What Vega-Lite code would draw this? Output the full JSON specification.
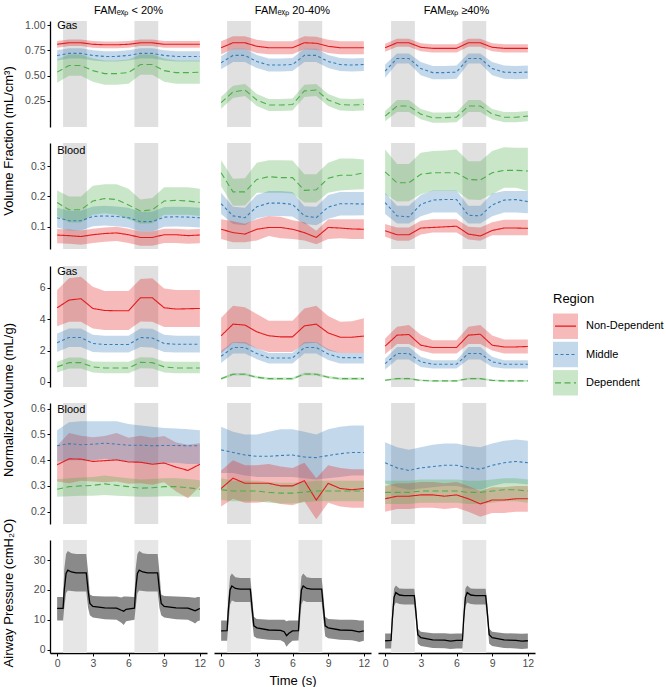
{
"$schema":"https://vega.github.io/schema/vega-lite/v6.json",
"padding":{"left":2,"top":5,"right":0,"bottom":0},
"config":{"font":"Liberation Sans","view":{"stroke":null},
"axis":{"domainColor":"black","domainWidth":1.3,"tickColor":"black","tickSize":3,"labelColor":"#4d4d4d","labelFontSize":10.5,"grid":false,"labelPadding":2,"labelOverlap":false,"labelSeparation":0},
"axisY":{"minExtent":31,"maxExtent":31},
"title":{"fontWeight":"normal","fontSize":13,"color":"black"}},
"datasets":{"d":[
{"v":"band","f":"a","s":0.5,"e":2.5},{"v":"band","f":"a","s":6.5,"e":8.5},
{"v":"band","f":"b","s":0.5,"e":2.5},{"v":"band","f":"b","s":6.5,"e":8.5},
{"v":"band","f":"c","s":0.5,"e":2.5},{"v":"band","f":"c","s":6.5,"e":8.5},
{"v":"gf","f":"a","lab":"Gas"},{"v":"bf","f":"a","lab":"Blood"},{"v":"gn","f":"a","lab":"Gas"},{"v":"bn","f":"a","lab":"Blood"},
{"v":"gf","f":"a","r":"N","t":0,"m":0.81,"l":0.777,"h":0.843},
{"v":"gf","f":"a","r":"N","t":1,"m":0.825,"l":0.792,"h":0.858},
{"v":"gf","f":"a","r":"N","t":2,"m":0.825,"l":0.792,"h":0.858},
{"v":"gf","f":"a","r":"N","t":3,"m":0.81,"l":0.777,"h":0.843},
{"v":"gf","f":"a","r":"N","t":4,"m":0.805,"l":0.772,"h":0.838},
{"v":"gf","f":"a","r":"N","t":5,"m":0.805,"l":0.772,"h":0.838},
{"v":"gf","f":"a","r":"N","t":6,"m":0.81,"l":0.777,"h":0.843},
{"v":"gf","f":"a","r":"N","t":7,"m":0.825,"l":0.792,"h":0.858},
{"v":"gf","f":"a","r":"N","t":8,"m":0.825,"l":0.792,"h":0.858},
{"v":"gf","f":"a","r":"N","t":9,"m":0.81,"l":0.777,"h":0.843},
{"v":"gf","f":"a","r":"N","t":10,"m":0.81,"l":0.777,"h":0.843},
{"v":"gf","f":"a","r":"N","t":11,"m":0.81,"l":0.777,"h":0.843},
{"v":"gf","f":"a","r":"N","t":12,"m":0.81,"l":0.777,"h":0.843},
{"v":"gf","f":"a","r":"M","t":0,"m":0.70,"l":0.65,"h":0.75},
{"v":"gf","f":"a","r":"M","t":1,"m":0.72,"l":0.67,"h":0.77},
{"v":"gf","f":"a","r":"M","t":2,"m":0.72,"l":0.67,"h":0.77},
{"v":"gf","f":"a","r":"M","t":3,"m":0.70,"l":0.65,"h":0.75},
{"v":"gf","f":"a","r":"M","t":4,"m":0.69,"l":0.64,"h":0.74},
{"v":"gf","f":"a","r":"M","t":5,"m":0.69,"l":0.64,"h":0.74},
{"v":"gf","f":"a","r":"M","t":6,"m":0.70,"l":0.65,"h":0.75},
{"v":"gf","f":"a","r":"M","t":7,"m":0.72,"l":0.67,"h":0.77},
{"v":"gf","f":"a","r":"M","t":8,"m":0.72,"l":0.67,"h":0.77},
{"v":"gf","f":"a","r":"M","t":9,"m":0.70,"l":0.65,"h":0.75},
{"v":"gf","f":"a","r":"M","t":10,"m":0.69,"l":0.64,"h":0.74},
{"v":"gf","f":"a","r":"M","t":11,"m":0.69,"l":0.64,"h":0.74},
{"v":"gf","f":"a","r":"M","t":12,"m":0.69,"l":0.64,"h":0.74},
{"v":"gf","f":"a","r":"D","t":0,"m":0.535,"l":0.43,"h":0.66},
{"v":"gf","f":"a","r":"D","t":1,"m":0.60,"l":0.50,"h":0.71},
{"v":"gf","f":"a","r":"D","t":2,"m":0.60,"l":0.50,"h":0.71},
{"v":"gf","f":"a","r":"D","t":3,"m":0.55,"l":0.44,"h":0.67},
{"v":"gf","f":"a","r":"D","t":4,"m":0.52,"l":0.41,"h":0.65},
{"v":"gf","f":"a","r":"D","t":5,"m":0.52,"l":0.41,"h":0.65},
{"v":"gf","f":"a","r":"D","t":6,"m":0.53,"l":0.42,"h":0.66},
{"v":"gf","f":"a","r":"D","t":7,"m":0.61,"l":0.51,"h":0.71},
{"v":"gf","f":"a","r":"D","t":8,"m":0.61,"l":0.51,"h":0.71},
{"v":"gf","f":"a","r":"D","t":9,"m":0.55,"l":0.44,"h":0.67},
{"v":"gf","f":"a","r":"D","t":10,"m":0.53,"l":0.42,"h":0.65},
{"v":"gf","f":"a","r":"D","t":11,"m":0.53,"l":0.42,"h":0.65},
{"v":"gf","f":"a","r":"D","t":12,"m":0.535,"l":0.42,"h":0.65},
{"v":"gf","f":"b","r":"N","t":0,"m":0.776,"l":0.711,"h":0.841},
{"v":"gf","f":"b","r":"N","t":1,"m":0.825,"l":0.76,"h":0.89},
{"v":"gf","f":"b","r":"N","t":2,"m":0.825,"l":0.76,"h":0.89},
{"v":"gf","f":"b","r":"N","t":3,"m":0.79,"l":0.725,"h":0.855},
{"v":"gf","f":"b","r":"N","t":4,"m":0.776,"l":0.711,"h":0.841},
{"v":"gf","f":"b","r":"N","t":5,"m":0.776,"l":0.711,"h":0.841},
{"v":"gf","f":"b","r":"N","t":6,"m":0.776,"l":0.711,"h":0.841},
{"v":"gf","f":"b","r":"N","t":7,"m":0.825,"l":0.76,"h":0.89},
{"v":"gf","f":"b","r":"N","t":8,"m":0.82,"l":0.755,"h":0.885},
{"v":"gf","f":"b","r":"N","t":9,"m":0.79,"l":0.725,"h":0.855},
{"v":"gf","f":"b","r":"N","t":10,"m":0.776,"l":0.711,"h":0.841},
{"v":"gf","f":"b","r":"N","t":11,"m":0.776,"l":0.711,"h":0.841},
{"v":"gf","f":"b","r":"N","t":12,"m":0.776,"l":0.711,"h":0.841},
{"v":"gf","f":"b","r":"M","t":0,"m":0.628,"l":0.563,"h":0.693},
{"v":"gf","f":"b","r":"M","t":1,"m":0.70,"l":0.635,"h":0.765},
{"v":"gf","f":"b","r":"M","t":2,"m":0.70,"l":0.635,"h":0.765},
{"v":"gf","f":"b","r":"M","t":3,"m":0.64,"l":0.575,"h":0.705},
{"v":"gf","f":"b","r":"M","t":4,"m":0.605,"l":0.54,"h":0.67},
{"v":"gf","f":"b","r":"M","t":5,"m":0.605,"l":0.54,"h":0.67},
{"v":"gf","f":"b","r":"M","t":6,"m":0.61,"l":0.545,"h":0.675},
{"v":"gf","f":"b","r":"M","t":7,"m":0.70,"l":0.635,"h":0.765},
{"v":"gf","f":"b","r":"M","t":8,"m":0.70,"l":0.635,"h":0.765},
{"v":"gf","f":"b","r":"M","t":9,"m":0.64,"l":0.575,"h":0.705},
{"v":"gf","f":"b","r":"M","t":10,"m":0.61,"l":0.545,"h":0.675},
{"v":"gf","f":"b","r":"M","t":11,"m":0.605,"l":0.54,"h":0.67},
{"v":"gf","f":"b","r":"M","t":12,"m":0.61,"l":0.545,"h":0.675},
{"v":"gf","f":"b","r":"D","t":0,"m":0.233,"l":0.173,"h":0.293},
{"v":"gf","f":"b","r":"D","t":1,"m":0.34,"l":0.28,"h":0.40},
{"v":"gf","f":"b","r":"D","t":2,"m":0.358,"l":0.298,"h":0.418},
{"v":"gf","f":"b","r":"D","t":3,"m":0.26,"l":0.20,"h":0.32},
{"v":"gf","f":"b","r":"D","t":4,"m":0.21,"l":0.15,"h":0.27},
{"v":"gf","f":"b","r":"D","t":5,"m":0.21,"l":0.15,"h":0.27},
{"v":"gf","f":"b","r":"D","t":6,"m":0.215,"l":0.155,"h":0.275},
{"v":"gf","f":"b","r":"D","t":7,"m":0.35,"l":0.29,"h":0.41},
{"v":"gf","f":"b","r":"D","t":8,"m":0.358,"l":0.298,"h":0.418},
{"v":"gf","f":"b","r":"D","t":9,"m":0.26,"l":0.20,"h":0.32},
{"v":"gf","f":"b","r":"D","t":10,"m":0.215,"l":0.155,"h":0.275},
{"v":"gf","f":"b","r":"D","t":11,"m":0.21,"l":0.15,"h":0.27},
{"v":"gf","f":"b","r":"D","t":12,"m":0.215,"l":0.155,"h":0.275},
{"v":"gf","f":"c","r":"N","t":0,"m":0.776,"l":0.736,"h":0.816},
{"v":"gf","f":"c","r":"N","t":1,"m":0.825,"l":0.785,"h":0.865},
{"v":"gf","f":"c","r":"N","t":2,"m":0.825,"l":0.785,"h":0.865},
{"v":"gf","f":"c","r":"N","t":3,"m":0.78,"l":0.74,"h":0.82},
{"v":"gf","f":"c","r":"N","t":4,"m":0.77,"l":0.73,"h":0.81},
{"v":"gf","f":"c","r":"N","t":5,"m":0.77,"l":0.73,"h":0.81},
{"v":"gf","f":"c","r":"N","t":6,"m":0.77,"l":0.73,"h":0.81},
{"v":"gf","f":"c","r":"N","t":7,"m":0.825,"l":0.785,"h":0.865},
{"v":"gf","f":"c","r":"N","t":8,"m":0.825,"l":0.785,"h":0.865},
{"v":"gf","f":"c","r":"N","t":9,"m":0.78,"l":0.74,"h":0.82},
{"v":"gf","f":"c","r":"N","t":10,"m":0.77,"l":0.73,"h":0.81},
{"v":"gf","f":"c","r":"N","t":11,"m":0.77,"l":0.73,"h":0.81},
{"v":"gf","f":"c","r":"N","t":12,"m":0.77,"l":0.73,"h":0.81},
{"v":"gf","f":"c","r":"M","t":0,"m":0.546,"l":0.48,"h":0.61},
{"v":"gf","f":"c","r":"M","t":1,"m":0.67,"l":0.62,"h":0.72},
{"v":"gf","f":"c","r":"M","t":2,"m":0.67,"l":0.62,"h":0.72},
{"v":"gf","f":"c","r":"M","t":3,"m":0.57,"l":0.505,"h":0.635},
{"v":"gf","f":"c","r":"M","t":4,"m":0.53,"l":0.465,"h":0.595},
{"v":"gf","f":"c","r":"M","t":5,"m":0.53,"l":0.465,"h":0.595},
{"v":"gf","f":"c","r":"M","t":6,"m":0.535,"l":0.47,"h":0.60},
{"v":"gf","f":"c","r":"M","t":7,"m":0.67,"l":0.62,"h":0.72},
{"v":"gf","f":"c","r":"M","t":8,"m":0.67,"l":0.62,"h":0.72},
{"v":"gf","f":"c","r":"M","t":9,"m":0.57,"l":0.505,"h":0.635},
{"v":"gf","f":"c","r":"M","t":10,"m":0.535,"l":0.47,"h":0.60},
{"v":"gf","f":"c","r":"M","t":11,"m":0.53,"l":0.465,"h":0.595},
{"v":"gf","f":"c","r":"M","t":12,"m":0.535,"l":0.47,"h":0.60},
{"v":"gf","f":"c","r":"D","t":0,"m":0.10,"l":0.05,"h":0.15},
{"v":"gf","f":"c","r":"D","t":1,"m":0.20,"l":0.14,"h":0.26},
{"v":"gf","f":"c","r":"D","t":2,"m":0.20,"l":0.14,"h":0.26},
{"v":"gf","f":"c","r":"D","t":3,"m":0.12,"l":0.07,"h":0.17},
{"v":"gf","f":"c","r":"D","t":4,"m":0.085,"l":0.035,"h":0.135},
{"v":"gf","f":"c","r":"D","t":5,"m":0.085,"l":0.035,"h":0.135},
{"v":"gf","f":"c","r":"D","t":6,"m":0.09,"l":0.04,"h":0.14},
{"v":"gf","f":"c","r":"D","t":7,"m":0.20,"l":0.14,"h":0.26},
{"v":"gf","f":"c","r":"D","t":8,"m":0.20,"l":0.14,"h":0.26},
{"v":"gf","f":"c","r":"D","t":9,"m":0.12,"l":0.07,"h":0.17},
{"v":"gf","f":"c","r":"D","t":10,"m":0.09,"l":0.04,"h":0.14},
{"v":"gf","f":"c","r":"D","t":11,"m":0.09,"l":0.04,"h":0.14},
{"v":"gf","f":"c","r":"D","t":12,"m":0.10,"l":0.05,"h":0.15},
{"v":"bf","f":"a","r":"N","t":0,"m":0.073,"l":0.046,"h":0.093},
{"v":"bf","f":"a","r":"N","t":1,"m":0.071,"l":0.044,"h":0.091},
{"v":"bf","f":"a","r":"N","t":2,"m":0.068,"l":0.041,"h":0.088},
{"v":"bf","f":"a","r":"N","t":3,"m":0.074,"l":0.047,"h":0.094},
{"v":"bf","f":"a","r":"N","t":4,"m":0.078,"l":0.051,"h":0.098},
{"v":"bf","f":"a","r":"N","t":5,"m":0.080,"l":0.053,"h":0.100},
{"v":"bf","f":"a","r":"N","t":6,"m":0.074,"l":0.047,"h":0.094},
{"v":"bf","f":"a","r":"N","t":7,"m":0.065,"l":0.038,"h":0.085},
{"v":"bf","f":"a","r":"N","t":8,"m":0.065,"l":0.038,"h":0.085},
{"v":"bf","f":"a","r":"N","t":9,"m":0.074,"l":0.047,"h":0.094},
{"v":"bf","f":"a","r":"N","t":10,"m":0.074,"l":0.047,"h":0.094},
{"v":"bf","f":"a","r":"N","t":11,"m":0.071,"l":0.044,"h":0.091},
{"v":"bf","f":"a","r":"N","t":12,"m":0.073,"l":0.046,"h":0.093},
{"v":"bf","f":"a","r":"M","t":0,"m":0.13,"l":0.098,"h":0.163},
{"v":"bf","f":"a","r":"M","t":1,"m":0.12,"l":0.088,"h":0.153},
{"v":"bf","f":"a","r":"M","t":2,"m":0.12,"l":0.088,"h":0.153},
{"v":"bf","f":"a","r":"M","t":3,"m":0.134,"l":0.102,"h":0.167},
{"v":"bf","f":"a","r":"M","t":4,"m":0.136,"l":0.104,"h":0.169},
{"v":"bf","f":"a","r":"M","t":5,"m":0.134,"l":0.102,"h":0.167},
{"v":"bf","f":"a","r":"M","t":6,"m":0.13,"l":0.098,"h":0.163},
{"v":"bf","f":"a","r":"M","t":7,"m":0.117,"l":0.085,"h":0.15},
{"v":"bf","f":"a","r":"M","t":8,"m":0.117,"l":0.085,"h":0.15},
{"v":"bf","f":"a","r":"M","t":9,"m":0.132,"l":0.10,"h":0.165},
{"v":"bf","f":"a","r":"M","t":10,"m":0.133,"l":0.101,"h":0.166},
{"v":"bf","f":"a","r":"M","t":11,"m":0.132,"l":0.10,"h":0.165},
{"v":"bf","f":"a","r":"M","t":12,"m":0.13,"l":0.098,"h":0.163},
{"v":"bf","f":"a","r":"D","t":0,"m":0.18,"l":0.136,"h":0.22},
{"v":"bf","f":"a","r":"D","t":1,"m":0.156,"l":0.114,"h":0.20},
{"v":"bf","f":"a","r":"D","t":2,"m":0.156,"l":0.114,"h":0.20},
{"v":"bf","f":"a","r":"D","t":3,"m":0.185,"l":0.14,"h":0.235},
{"v":"bf","f":"a","r":"D","t":4,"m":0.193,"l":0.145,"h":0.24},
{"v":"bf","f":"a","r":"D","t":5,"m":0.19,"l":0.14,"h":0.24},
{"v":"bf","f":"a","r":"D","t":6,"m":0.172,"l":0.125,"h":0.225},
{"v":"bf","f":"a","r":"D","t":7,"m":0.152,"l":0.11,"h":0.19},
{"v":"bf","f":"a","r":"D","t":8,"m":0.156,"l":0.112,"h":0.195},
{"v":"bf","f":"a","r":"D","t":9,"m":0.185,"l":0.14,"h":0.23},
{"v":"bf","f":"a","r":"D","t":10,"m":0.187,"l":0.14,"h":0.23},
{"v":"bf","f":"a","r":"D","t":11,"m":0.185,"l":0.14,"h":0.23},
{"v":"bf","f":"a","r":"D","t":12,"m":0.18,"l":0.136,"h":0.225},
{"v":"bf","f":"b","r":"D","t":0,"m":0.278,"l":0.234,"h":0.319},
{"v":"bf","f":"b","r":"D","t":1,"m":0.215,"l":0.169,"h":0.258},
{"v":"bf","f":"b","r":"D","t":2,"m":0.215,"l":0.17,"h":0.26},
{"v":"bf","f":"b","r":"D","t":3,"m":0.256,"l":0.212,"h":0.311},
{"v":"bf","f":"b","r":"D","t":4,"m":0.265,"l":0.212,"h":0.319},
{"v":"bf","f":"b","r":"D","t":5,"m":0.262,"l":0.212,"h":0.319},
{"v":"bf","f":"b","r":"D","t":6,"m":0.262,"l":0.21,"h":0.318},
{"v":"bf","f":"b","r":"D","t":7,"m":0.22,"l":0.18,"h":0.273},
{"v":"bf","f":"b","r":"D","t":8,"m":0.222,"l":0.18,"h":0.273},
{"v":"bf","f":"b","r":"D","t":9,"m":0.26,"l":0.212,"h":0.311},
{"v":"bf","f":"b","r":"D","t":10,"m":0.27,"l":0.22,"h":0.325},
{"v":"bf","f":"b","r":"D","t":11,"m":0.27,"l":0.222,"h":0.325},
{"v":"bf","f":"b","r":"D","t":12,"m":0.278,"l":0.224,"h":0.322},
{"v":"bf","f":"b","r":"M","t":0,"m":0.176,"l":0.142,"h":0.212},
{"v":"bf","f":"b","r":"M","t":1,"m":0.136,"l":0.109,"h":0.166},
{"v":"bf","f":"b","r":"M","t":2,"m":0.13,"l":0.105,"h":0.163},
{"v":"bf","f":"b","r":"M","t":3,"m":0.166,"l":0.128,"h":0.205},
{"v":"bf","f":"b","r":"M","t":4,"m":0.178,"l":0.136,"h":0.218},
{"v":"bf","f":"b","r":"M","t":5,"m":0.178,"l":0.136,"h":0.218},
{"v":"bf","f":"b","r":"M","t":6,"m":0.174,"l":0.134,"h":0.215},
{"v":"bf","f":"b","r":"M","t":7,"m":0.136,"l":0.109,"h":0.168},
{"v":"bf","f":"b","r":"M","t":8,"m":0.13,"l":0.105,"h":0.166},
{"v":"bf","f":"b","r":"M","t":9,"m":0.165,"l":0.127,"h":0.205},
{"v":"bf","f":"b","r":"M","t":10,"m":0.176,"l":0.137,"h":0.215},
{"v":"bf","f":"b","r":"M","t":11,"m":0.176,"l":0.137,"h":0.215},
{"v":"bf","f":"b","r":"M","t":12,"m":0.175,"l":0.138,"h":0.215},
{"v":"bf","f":"b","r":"N","t":0,"m":0.092,"l":0.06,"h":0.125},
{"v":"bf","f":"b","r":"N","t":1,"m":0.081,"l":0.049,"h":0.118},
{"v":"bf","f":"b","r":"N","t":2,"m":0.076,"l":0.049,"h":0.11},
{"v":"bf","f":"b","r":"N","t":3,"m":0.092,"l":0.055,"h":0.125},
{"v":"bf","f":"b","r":"N","t":4,"m":0.098,"l":0.07,"h":0.136},
{"v":"bf","f":"b","r":"N","t":5,"m":0.098,"l":0.062,"h":0.133},
{"v":"bf","f":"b","r":"N","t":6,"m":0.092,"l":0.06,"h":0.122},
{"v":"bf","f":"b","r":"N","t":7,"m":0.081,"l":0.055,"h":0.115},
{"v":"bf","f":"b","r":"N","t":8,"m":0.065,"l":0.043,"h":0.087},
{"v":"bf","f":"b","r":"N","t":9,"m":0.098,"l":0.06,"h":0.125},
{"v":"bf","f":"b","r":"N","t":10,"m":0.096,"l":0.062,"h":0.125},
{"v":"bf","f":"b","r":"N","t":11,"m":0.093,"l":0.06,"h":0.125},
{"v":"bf","f":"b","r":"N","t":12,"m":0.092,"l":0.06,"h":0.125},
{"v":"bf","f":"c","r":"D","t":0,"m":0.281,"l":0.207,"h":0.355},
{"v":"bf","f":"c","r":"D","t":1,"m":0.245,"l":0.183,"h":0.307},
{"v":"bf","f":"c","r":"D","t":2,"m":0.245,"l":0.184,"h":0.307},
{"v":"bf","f":"c","r":"D","t":3,"m":0.273,"l":0.207,"h":0.344},
{"v":"bf","f":"c","r":"D","t":4,"m":0.278,"l":0.218,"h":0.35},
{"v":"bf","f":"c","r":"D","t":5,"m":0.278,"l":0.218,"h":0.351},
{"v":"bf","f":"c","r":"D","t":6,"m":0.278,"l":0.218,"h":0.355},
{"v":"bf","f":"c","r":"D","t":7,"m":0.256,"l":0.19,"h":0.316},
{"v":"bf","f":"c","r":"D","t":8,"m":0.254,"l":0.188,"h":0.316},
{"v":"bf","f":"c","r":"D","t":9,"m":0.278,"l":0.207,"h":0.35},
{"v":"bf","f":"c","r":"D","t":10,"m":0.286,"l":0.229,"h":0.362},
{"v":"bf","f":"c","r":"D","t":11,"m":0.286,"l":0.229,"h":0.36},
{"v":"bf","f":"c","r":"D","t":12,"m":0.284,"l":0.218,"h":0.36},
{"v":"bf","f":"c","r":"M","t":0,"m":0.18,"l":0.142,"h":0.212},
{"v":"bf","f":"c","r":"M","t":1,"m":0.136,"l":0.111,"h":0.169},
{"v":"bf","f":"c","r":"M","t":2,"m":0.133,"l":0.111,"h":0.169},
{"v":"bf","f":"c","r":"M","t":3,"m":0.174,"l":0.135,"h":0.205},
{"v":"bf","f":"c","r":"M","t":4,"m":0.188,"l":0.147,"h":0.22},
{"v":"bf","f":"c","r":"M","t":5,"m":0.19,"l":0.147,"h":0.22},
{"v":"bf","f":"c","r":"M","t":6,"m":0.19,"l":0.147,"h":0.22},
{"v":"bf","f":"c","r":"M","t":7,"m":0.138,"l":0.111,"h":0.169},
{"v":"bf","f":"c","r":"M","t":8,"m":0.136,"l":0.111,"h":0.169},
{"v":"bf","f":"c","r":"M","t":9,"m":0.172,"l":0.135,"h":0.21},
{"v":"bf","f":"c","r":"M","t":10,"m":0.188,"l":0.147,"h":0.218},
{"v":"bf","f":"c","r":"M","t":11,"m":0.19,"l":0.147,"h":0.218},
{"v":"bf","f":"c","r":"M","t":12,"m":0.183,"l":0.145,"h":0.218},
{"v":"bf","f":"c","r":"N","t":0,"m":0.087,"l":0.067,"h":0.109},
{"v":"bf","f":"c","r":"N","t":1,"m":0.074,"l":0.054,"h":0.098},
{"v":"bf","f":"c","r":"N","t":2,"m":0.074,"l":0.054,"h":0.098},
{"v":"bf","f":"c","r":"N","t":3,"m":0.096,"l":0.075,"h":0.12},
{"v":"bf","f":"c","r":"N","t":4,"m":0.098,"l":0.081,"h":0.125},
{"v":"bf","f":"c","r":"N","t":5,"m":0.10,"l":0.081,"h":0.125},
{"v":"bf","f":"c","r":"N","t":6,"m":0.102,"l":0.081,"h":0.125},
{"v":"bf","f":"c","r":"N","t":7,"m":0.076,"l":0.058,"h":0.10},
{"v":"bf","f":"c","r":"N","t":8,"m":0.07,"l":0.054,"h":0.098},
{"v":"bf","f":"c","r":"N","t":9,"m":0.088,"l":0.072,"h":0.115},
{"v":"bf","f":"c","r":"N","t":10,"m":0.096,"l":0.072,"h":0.123},
{"v":"bf","f":"c","r":"N","t":11,"m":0.096,"l":0.072,"h":0.123},
{"v":"bf","f":"c","r":"N","t":12,"m":0.095,"l":0.072,"h":0.123},
{"v":"gn","f":"a","r":"N","t":0,"m":4.72,"l":3.55,"h":5.85},
{"v":"gn","f":"a","r":"N","t":1,"m":5.21,"l":3.83,"h":6.6},
{"v":"gn","f":"a","r":"N","t":2,"m":5.3,"l":3.83,"h":6.7},
{"v":"gn","f":"a","r":"N","t":3,"m":4.68,"l":3.4,"h":6.06},
{"v":"gn","f":"a","r":"N","t":4,"m":4.55,"l":3.3,"h":5.79},
{"v":"gn","f":"a","r":"N","t":5,"m":4.53,"l":3.3,"h":5.79},
{"v":"gn","f":"a","r":"N","t":6,"m":4.53,"l":3.3,"h":5.79},
{"v":"gn","f":"a","r":"N","t":7,"m":5.36,"l":3.85,"h":6.55},
{"v":"gn","f":"a","r":"N","t":8,"m":5.36,"l":3.83,"h":6.6},
{"v":"gn","f":"a","r":"N","t":9,"m":4.72,"l":3.5,"h":5.95},
{"v":"gn","f":"a","r":"N","t":10,"m":4.64,"l":3.5,"h":5.85},
{"v":"gn","f":"a","r":"N","t":11,"m":4.66,"l":3.5,"h":5.85},
{"v":"gn","f":"a","r":"N","t":12,"m":4.68,"l":3.5,"h":5.85},
{"v":"gn","f":"a","r":"M","t":0,"m":2.49,"l":1.91,"h":3.08},
{"v":"gn","f":"a","r":"M","t":1,"m":2.83,"l":2.23,"h":3.4},
{"v":"gn","f":"a","r":"M","t":2,"m":2.83,"l":2.23,"h":3.4},
{"v":"gn","f":"a","r":"M","t":3,"m":2.45,"l":1.9,"h":3.0},
{"v":"gn","f":"a","r":"M","t":4,"m":2.38,"l":1.87,"h":2.94},
{"v":"gn","f":"a","r":"M","t":5,"m":2.38,"l":1.87,"h":2.94},
{"v":"gn","f":"a","r":"M","t":6,"m":2.38,"l":1.87,"h":2.94},
{"v":"gn","f":"a","r":"M","t":7,"m":2.83,"l":2.23,"h":3.4},
{"v":"gn","f":"a","r":"M","t":8,"m":2.8,"l":2.2,"h":3.38},
{"v":"gn","f":"a","r":"M","t":9,"m":2.45,"l":1.9,"h":3.0},
{"v":"gn","f":"a","r":"M","t":10,"m":2.4,"l":1.87,"h":2.94},
{"v":"gn","f":"a","r":"M","t":11,"m":2.4,"l":1.87,"h":2.94},
{"v":"gn","f":"a","r":"M","t":12,"m":2.4,"l":1.87,"h":2.94},
{"v":"gn","f":"a","r":"D","t":0,"m":0.96,"l":0.6,"h":1.28},
{"v":"gn","f":"a","r":"D","t":1,"m":1.23,"l":0.85,"h":1.55},
{"v":"gn","f":"a","r":"D","t":2,"m":1.23,"l":0.85,"h":1.55},
{"v":"gn","f":"a","r":"D","t":3,"m":0.96,"l":0.6,"h":1.3},
{"v":"gn","f":"a","r":"D","t":4,"m":0.89,"l":0.55,"h":1.28},
{"v":"gn","f":"a","r":"D","t":5,"m":0.89,"l":0.55,"h":1.28},
{"v":"gn","f":"a","r":"D","t":6,"m":0.89,"l":0.55,"h":1.28},
{"v":"gn","f":"a","r":"D","t":7,"m":1.25,"l":0.87,"h":1.58},
{"v":"gn","f":"a","r":"D","t":8,"m":1.23,"l":0.85,"h":1.55},
{"v":"gn","f":"a","r":"D","t":9,"m":0.96,"l":0.6,"h":1.3},
{"v":"gn","f":"a","r":"D","t":10,"m":0.89,"l":0.55,"h":1.28},
{"v":"gn","f":"a","r":"D","t":11,"m":0.89,"l":0.55,"h":1.28},
{"v":"gn","f":"a","r":"D","t":12,"m":0.89,"l":0.55,"h":1.28},
{"v":"gn","f":"b","r":"N","t":0,"m":2.94,"l":1.81,"h":4.08},
{"v":"gn","f":"b","r":"N","t":1,"m":3.68,"l":2.49,"h":4.85},
{"v":"gn","f":"b","r":"N","t":2,"m":3.62,"l":2.45,"h":4.75},
{"v":"gn","f":"b","r":"N","t":3,"m":3.19,"l":2.13,"h":4.32},
{"v":"gn","f":"b","r":"N","t":4,"m":2.94,"l":1.91,"h":3.89},
{"v":"gn","f":"b","r":"N","t":5,"m":2.87,"l":1.91,"h":3.89},
{"v":"gn","f":"b","r":"N","t":6,"m":2.87,"l":1.91,"h":3.89},
{"v":"gn","f":"b","r":"N","t":7,"m":3.57,"l":2.45,"h":4.68},
{"v":"gn","f":"b","r":"N","t":8,"m":3.68,"l":2.49,"h":4.85},
{"v":"gn","f":"b","r":"N","t":9,"m":3.12,"l":2.0,"h":4.2},
{"v":"gn","f":"b","r":"N","t":10,"m":2.85,"l":1.85,"h":3.83},
{"v":"gn","f":"b","r":"N","t":11,"m":2.85,"l":1.85,"h":3.87},
{"v":"gn","f":"b","r":"N","t":12,"m":2.92,"l":1.85,"h":4.06},
{"v":"gn","f":"b","r":"M","t":0,"m":1.64,"l":1.21,"h":1.98},
{"v":"gn","f":"b","r":"M","t":1,"m":2.19,"l":1.81,"h":2.55},
{"v":"gn","f":"b","r":"M","t":2,"m":2.19,"l":1.81,"h":2.55},
{"v":"gn","f":"b","r":"M","t":3,"m":1.81,"l":1.45,"h":2.15},
{"v":"gn","f":"b","r":"M","t":4,"m":1.53,"l":1.17,"h":1.85},
{"v":"gn","f":"b","r":"M","t":5,"m":1.53,"l":1.17,"h":1.85},
{"v":"gn","f":"b","r":"M","t":6,"m":1.53,"l":1.17,"h":1.85},
{"v":"gn","f":"b","r":"M","t":7,"m":2.19,"l":1.81,"h":2.55},
{"v":"gn","f":"b","r":"M","t":8,"m":2.19,"l":1.81,"h":2.55},
{"v":"gn","f":"b","r":"M","t":9,"m":1.78,"l":1.4,"h":2.1},
{"v":"gn","f":"b","r":"M","t":10,"m":1.55,"l":1.17,"h":1.85},
{"v":"gn","f":"b","r":"M","t":11,"m":1.55,"l":1.17,"h":1.85},
{"v":"gn","f":"b","r":"M","t":12,"m":1.55,"l":1.17,"h":1.85},
{"v":"gn","f":"b","r":"D","t":0,"m":0.21,"l":0.13,"h":0.29},
{"v":"gn","f":"b","r":"D","t":1,"m":0.49,"l":0.41,"h":0.57},
{"v":"gn","f":"b","r":"D","t":2,"m":0.49,"l":0.41,"h":0.57},
{"v":"gn","f":"b","r":"D","t":3,"m":0.3,"l":0.22,"h":0.38},
{"v":"gn","f":"b","r":"D","t":4,"m":0.21,"l":0.13,"h":0.29},
{"v":"gn","f":"b","r":"D","t":5,"m":0.21,"l":0.13,"h":0.29},
{"v":"gn","f":"b","r":"D","t":6,"m":0.21,"l":0.13,"h":0.29},
{"v":"gn","f":"b","r":"D","t":7,"m":0.51,"l":0.43,"h":0.59},
{"v":"gn","f":"b","r":"D","t":8,"m":0.49,"l":0.41,"h":0.57},
{"v":"gn","f":"b","r":"D","t":9,"m":0.3,"l":0.22,"h":0.38},
{"v":"gn","f":"b","r":"D","t":10,"m":0.21,"l":0.13,"h":0.29},
{"v":"gn","f":"b","r":"D","t":11,"m":0.21,"l":0.13,"h":0.29},
{"v":"gn","f":"b","r":"D","t":12,"m":0.21,"l":0.13,"h":0.29},
{"v":"gn","f":"c","r":"N","t":0,"m":2.28,"l":1.77,"h":2.77},
{"v":"gn","f":"c","r":"N","t":1,"m":2.98,"l":2.41,"h":3.51},
{"v":"gn","f":"c","r":"N","t":2,"m":3.02,"l":2.41,"h":3.62},
{"v":"gn","f":"c","r":"N","t":3,"m":2.34,"l":2.0,"h":3.0},
{"v":"gn","f":"c","r":"N","t":4,"m":2.19,"l":1.81,"h":2.66},
{"v":"gn","f":"c","r":"N","t":5,"m":2.19,"l":1.81,"h":2.66},
{"v":"gn","f":"c","r":"N","t":6,"m":2.19,"l":1.81,"h":2.66},
{"v":"gn","f":"c","r":"N","t":7,"m":2.98,"l":2.41,"h":3.51},
{"v":"gn","f":"c","r":"N","t":8,"m":3.04,"l":2.41,"h":3.62},
{"v":"gn","f":"c","r":"N","t":9,"m":2.34,"l":2.0,"h":2.95},
{"v":"gn","f":"c","r":"N","t":10,"m":2.23,"l":1.81,"h":2.7},
{"v":"gn","f":"c","r":"N","t":11,"m":2.23,"l":1.81,"h":2.7},
{"v":"gn","f":"c","r":"N","t":12,"m":2.26,"l":1.81,"h":2.7},
{"v":"gn","f":"c","r":"M","t":0,"m":1.17,"l":0.79,"h":1.49},
{"v":"gn","f":"c","r":"M","t":1,"m":1.81,"l":1.43,"h":2.23},
{"v":"gn","f":"c","r":"M","t":2,"m":1.81,"l":1.43,"h":2.23},
{"v":"gn","f":"c","r":"M","t":3,"m":1.28,"l":0.95,"h":1.6},
{"v":"gn","f":"c","r":"M","t":4,"m":1.13,"l":0.85,"h":1.38},
{"v":"gn","f":"c","r":"M","t":5,"m":1.13,"l":0.85,"h":1.38},
{"v":"gn","f":"c","r":"M","t":6,"m":1.13,"l":0.85,"h":1.38},
{"v":"gn","f":"c","r":"M","t":7,"m":1.81,"l":1.43,"h":2.23},
{"v":"gn","f":"c","r":"M","t":8,"m":1.81,"l":1.43,"h":2.23},
{"v":"gn","f":"c","r":"M","t":9,"m":1.28,"l":0.95,"h":1.6},
{"v":"gn","f":"c","r":"M","t":10,"m":1.13,"l":0.85,"h":1.38},
{"v":"gn","f":"c","r":"M","t":11,"m":1.13,"l":0.85,"h":1.38},
{"v":"gn","f":"c","r":"M","t":12,"m":1.13,"l":0.85,"h":1.38},
{"v":"gn","f":"c","r":"D","t":0,"m":0.11,"l":0.05,"h":0.17},
{"v":"gn","f":"c","r":"D","t":1,"m":0.21,"l":0.15,"h":0.27},
{"v":"gn","f":"c","r":"D","t":2,"m":0.21,"l":0.15,"h":0.27},
{"v":"gn","f":"c","r":"D","t":3,"m":0.1,"l":0.04,"h":0.16},
{"v":"gn","f":"c","r":"D","t":4,"m":0.07,"l":0.01,"h":0.13},
{"v":"gn","f":"c","r":"D","t":5,"m":0.07,"l":0.01,"h":0.13},
{"v":"gn","f":"c","r":"D","t":6,"m":0.07,"l":0.01,"h":0.13},
{"v":"gn","f":"c","r":"D","t":7,"m":0.21,"l":0.15,"h":0.27},
{"v":"gn","f":"c","r":"D","t":8,"m":0.21,"l":0.15,"h":0.27},
{"v":"gn","f":"c","r":"D","t":9,"m":0.1,"l":0.04,"h":0.16},
{"v":"gn","f":"c","r":"D","t":10,"m":0.07,"l":0.01,"h":0.13},
{"v":"gn","f":"c","r":"D","t":11,"m":0.07,"l":0.01,"h":0.13},
{"v":"gn","f":"c","r":"D","t":12,"m":0.07,"l":0.01,"h":0.13},
{"v":"bn","f":"a","r":"N","t":0,"m":0.382,"l":0.317,"h":0.456},
{"v":"bn","f":"a","r":"N","t":1,"m":0.405,"l":0.31,"h":0.505},
{"v":"bn","f":"a","r":"N","t":2,"m":0.404,"l":0.32,"h":0.495},
{"v":"bn","f":"a","r":"N","t":3,"m":0.395,"l":0.317,"h":0.489},
{"v":"bn","f":"a","r":"N","t":4,"m":0.398,"l":0.314,"h":0.494},
{"v":"bn","f":"a","r":"N","t":5,"m":0.401,"l":0.317,"h":0.505},
{"v":"bn","f":"a","r":"N","t":6,"m":0.393,"l":0.308,"h":0.487},
{"v":"bn","f":"a","r":"N","t":7,"m":0.392,"l":0.31,"h":0.495},
{"v":"bn","f":"a","r":"N","t":8,"m":0.384,"l":0.304,"h":0.487},
{"v":"bn","f":"a","r":"N","t":9,"m":0.389,"l":0.314,"h":0.494},
{"v":"bn","f":"a","r":"N","t":10,"m":0.373,"l":0.278,"h":0.469},
{"v":"bn","f":"a","r":"N","t":11,"m":0.36,"l":0.252,"h":0.46},
{"v":"bn","f":"a","r":"N","t":12,"m":0.384,"l":0.298,"h":0.466},
{"v":"bn","f":"a","r":"M","t":0,"m":0.456,"l":0.395,"h":0.516},
{"v":"bn","f":"a","r":"M","t":1,"m":0.464,"l":0.40,"h":0.547},
{"v":"bn","f":"a","r":"M","t":2,"m":0.46,"l":0.40,"h":0.551},
{"v":"bn","f":"a","r":"M","t":3,"m":0.462,"l":0.40,"h":0.551},
{"v":"bn","f":"a","r":"M","t":4,"m":0.466,"l":0.405,"h":0.551},
{"v":"bn","f":"a","r":"M","t":5,"m":0.462,"l":0.40,"h":0.551},
{"v":"bn","f":"a","r":"M","t":6,"m":0.458,"l":0.395,"h":0.54},
{"v":"bn","f":"a","r":"M","t":7,"m":0.458,"l":0.39,"h":0.535},
{"v":"bn","f":"a","r":"M","t":8,"m":0.456,"l":0.385,"h":0.53},
{"v":"bn","f":"a","r":"M","t":9,"m":0.457,"l":0.39,"h":0.525},
{"v":"bn","f":"a","r":"M","t":10,"m":0.457,"l":0.39,"h":0.523},
{"v":"bn","f":"a","r":"M","t":11,"m":0.456,"l":0.385,"h":0.52},
{"v":"bn","f":"a","r":"M","t":12,"m":0.456,"l":0.385,"h":0.516},
{"v":"bn","f":"a","r":"D","t":0,"m":0.287,"l":0.258,"h":0.326},
{"v":"bn","f":"a","r":"D","t":1,"m":0.297,"l":0.26,"h":0.33},
{"v":"bn","f":"a","r":"D","t":2,"m":0.30,"l":0.262,"h":0.333},
{"v":"bn","f":"a","r":"D","t":3,"m":0.302,"l":0.262,"h":0.335},
{"v":"bn","f":"a","r":"D","t":4,"m":0.308,"l":0.265,"h":0.34},
{"v":"bn","f":"a","r":"D","t":5,"m":0.302,"l":0.262,"h":0.335},
{"v":"bn","f":"a","r":"D","t":6,"m":0.297,"l":0.26,"h":0.33},
{"v":"bn","f":"a","r":"D","t":7,"m":0.291,"l":0.258,"h":0.325},
{"v":"bn","f":"a","r":"D","t":8,"m":0.293,"l":0.258,"h":0.327},
{"v":"bn","f":"a","r":"D","t":9,"m":0.297,"l":0.26,"h":0.33},
{"v":"bn","f":"a","r":"D","t":10,"m":0.297,"l":0.26,"h":0.33},
{"v":"bn","f":"a","r":"D","t":11,"m":0.293,"l":0.258,"h":0.327},
{"v":"bn","f":"a","r":"D","t":12,"m":0.287,"l":0.258,"h":0.322},
{"v":"bn","f":"b","r":"M","t":0,"m":0.44,"l":0.35,"h":0.53},
{"v":"bn","f":"b","r":"M","t":1,"m":0.43,"l":0.35,"h":0.51},
{"v":"bn","f":"b","r":"M","t":2,"m":0.42,"l":0.34,"h":0.50},
{"v":"bn","f":"b","r":"M","t":3,"m":0.415,"l":0.335,"h":0.50},
{"v":"bn","f":"b","r":"M","t":4,"m":0.415,"l":0.335,"h":0.51},
{"v":"bn","f":"b","r":"M","t":5,"m":0.418,"l":0.335,"h":0.52},
{"v":"bn","f":"b","r":"M","t":6,"m":0.42,"l":0.335,"h":0.52},
{"v":"bn","f":"b","r":"M","t":7,"m":0.412,"l":0.33,"h":0.51},
{"v":"bn","f":"b","r":"M","t":8,"m":0.41,"l":0.325,"h":0.50},
{"v":"bn","f":"b","r":"M","t":9,"m":0.418,"l":0.33,"h":0.52},
{"v":"bn","f":"b","r":"M","t":10,"m":0.425,"l":0.335,"h":0.53},
{"v":"bn","f":"b","r":"M","t":11,"m":0.43,"l":0.34,"h":0.535},
{"v":"bn","f":"b","r":"M","t":12,"m":0.43,"l":0.34,"h":0.535},
{"v":"bn","f":"b","r":"N","t":0,"m":0.29,"l":0.22,"h":0.36},
{"v":"bn","f":"b","r":"N","t":1,"m":0.33,"l":0.25,"h":0.40},
{"v":"bn","f":"b","r":"N","t":2,"m":0.31,"l":0.235,"h":0.38},
{"v":"bn","f":"b","r":"N","t":3,"m":0.31,"l":0.235,"h":0.38},
{"v":"bn","f":"b","r":"N","t":4,"m":0.31,"l":0.24,"h":0.385},
{"v":"bn","f":"b","r":"N","t":5,"m":0.30,"l":0.23,"h":0.375},
{"v":"bn","f":"b","r":"N","t":6,"m":0.30,"l":0.225,"h":0.37},
{"v":"bn","f":"b","r":"N","t":7,"m":0.32,"l":0.24,"h":0.39},
{"v":"bn","f":"b","r":"N","t":8,"m":0.245,"l":0.17,"h":0.33},
{"v":"bn","f":"b","r":"N","t":9,"m":0.31,"l":0.235,"h":0.38},
{"v":"bn","f":"b","r":"N","t":10,"m":0.29,"l":0.22,"h":0.37},
{"v":"bn","f":"b","r":"N","t":11,"m":0.285,"l":0.215,"h":0.365},
{"v":"bn","f":"b","r":"N","t":12,"m":0.29,"l":0.215,"h":0.365},
{"v":"bn","f":"b","r":"D","t":0,"m":0.285,"l":0.245,"h":0.33},
{"v":"bn","f":"b","r":"D","t":1,"m":0.28,"l":0.24,"h":0.32},
{"v":"bn","f":"b","r":"D","t":2,"m":0.28,"l":0.24,"h":0.32},
{"v":"bn","f":"b","r":"D","t":3,"m":0.28,"l":0.24,"h":0.32},
{"v":"bn","f":"b","r":"D","t":4,"m":0.275,"l":0.235,"h":0.315},
{"v":"bn","f":"b","r":"D","t":5,"m":0.272,"l":0.232,"h":0.312},
{"v":"bn","f":"b","r":"D","t":6,"m":0.272,"l":0.232,"h":0.312},
{"v":"bn","f":"b","r":"D","t":7,"m":0.276,"l":0.236,"h":0.315},
{"v":"bn","f":"b","r":"D","t":8,"m":0.28,"l":0.24,"h":0.32},
{"v":"bn","f":"b","r":"D","t":9,"m":0.28,"l":0.24,"h":0.32},
{"v":"bn","f":"b","r":"D","t":10,"m":0.28,"l":0.24,"h":0.32},
{"v":"bn","f":"b","r":"D","t":11,"m":0.28,"l":0.24,"h":0.32},
{"v":"bn","f":"b","r":"D","t":12,"m":0.28,"l":0.24,"h":0.32},
{"v":"bn","f":"c","r":"M","t":0,"m":0.39,"l":0.31,"h":0.47},
{"v":"bn","f":"c","r":"M","t":1,"m":0.37,"l":0.295,"h":0.45},
{"v":"bn","f":"c","r":"M","t":2,"m":0.36,"l":0.285,"h":0.44},
{"v":"bn","f":"c","r":"M","t":3,"m":0.37,"l":0.29,"h":0.45},
{"v":"bn","f":"c","r":"M","t":4,"m":0.375,"l":0.295,"h":0.46},
{"v":"bn","f":"c","r":"M","t":5,"m":0.38,"l":0.30,"h":0.465},
{"v":"bn","f":"c","r":"M","t":6,"m":0.38,"l":0.30,"h":0.465},
{"v":"bn","f":"c","r":"M","t":7,"m":0.37,"l":0.29,"h":0.455},
{"v":"bn","f":"c","r":"M","t":8,"m":0.365,"l":0.285,"h":0.45},
{"v":"bn","f":"c","r":"M","t":9,"m":0.38,"l":0.30,"h":0.465},
{"v":"bn","f":"c","r":"M","t":10,"m":0.39,"l":0.31,"h":0.475},
{"v":"bn","f":"c","r":"M","t":11,"m":0.395,"l":0.31,"h":0.48},
{"v":"bn","f":"c","r":"M","t":12,"m":0.39,"l":0.305,"h":0.475},
{"v":"bn","f":"c","r":"N","t":0,"m":0.25,"l":0.20,"h":0.30},
{"v":"bn","f":"c","r":"N","t":1,"m":0.26,"l":0.21,"h":0.31},
{"v":"bn","f":"c","r":"N","t":2,"m":0.26,"l":0.21,"h":0.31},
{"v":"bn","f":"c","r":"N","t":3,"m":0.265,"l":0.215,"h":0.315},
{"v":"bn","f":"c","r":"N","t":4,"m":0.265,"l":0.215,"h":0.315},
{"v":"bn","f":"c","r":"N","t":5,"m":0.26,"l":0.21,"h":0.31},
{"v":"bn","f":"c","r":"N","t":6,"m":0.265,"l":0.215,"h":0.315},
{"v":"bn","f":"c","r":"N","t":7,"m":0.25,"l":0.20,"h":0.30},
{"v":"bn","f":"c","r":"N","t":8,"m":0.23,"l":0.18,"h":0.28},
{"v":"bn","f":"c","r":"N","t":9,"m":0.245,"l":0.195,"h":0.295},
{"v":"bn","f":"c","r":"N","t":10,"m":0.245,"l":0.195,"h":0.295},
{"v":"bn","f":"c","r":"N","t":11,"m":0.25,"l":0.20,"h":0.30},
{"v":"bn","f":"c","r":"N","t":12,"m":0.25,"l":0.20,"h":0.30},
{"v":"bn","f":"c","r":"D","t":0,"m":0.275,"l":0.23,"h":0.32},
{"v":"bn","f":"c","r":"D","t":1,"m":0.275,"l":0.23,"h":0.32},
{"v":"bn","f":"c","r":"D","t":2,"m":0.275,"l":0.23,"h":0.32},
{"v":"bn","f":"c","r":"D","t":3,"m":0.28,"l":0.235,"h":0.325},
{"v":"bn","f":"c","r":"D","t":4,"m":0.28,"l":0.235,"h":0.325},
{"v":"bn","f":"c","r":"D","t":5,"m":0.28,"l":0.235,"h":0.325},
{"v":"bn","f":"c","r":"D","t":6,"m":0.28,"l":0.235,"h":0.325},
{"v":"bn","f":"c","r":"D","t":7,"m":0.275,"l":0.23,"h":0.32},
{"v":"bn","f":"c","r":"D","t":8,"m":0.275,"l":0.23,"h":0.32},
{"v":"bn","f":"c","r":"D","t":9,"m":0.28,"l":0.235,"h":0.325},
{"v":"bn","f":"c","r":"D","t":10,"m":0.285,"l":0.24,"h":0.33},
{"v":"bn","f":"c","r":"D","t":11,"m":0.285,"l":0.24,"h":0.33},
{"v":"bn","f":"c","r":"D","t":12,"m":0.28,"l":0.235,"h":0.325},
{"v":"p","f":"a","t":0,"m":13.8,"l":9.8,"h":17.6},
{"v":"p","f":"a","t":0.5,"m":13.8,"l":9.8,"h":17.6},
{"v":"p","f":"a","t":0.6,"m":20,"l":14,"h":27},
{"v":"p","f":"a","t":0.75,"m":25.5,"l":19,"h":32},
{"v":"p","f":"a","t":0.9,"m":26.6,"l":19.8,"h":33},
{"v":"p","f":"a","t":1.2,"m":26,"l":19.6,"h":32.3},
{"v":"p","f":"a","t":1.6,"m":25.7,"l":19.5,"h":32},
{"v":"p","f":"a","t":2.45,"m":25.7,"l":19.5,"h":32},
{"v":"p","f":"a","t":2.6,"m":20,"l":14,"h":26},
{"v":"p","f":"a","t":2.75,"m":15.5,"l":11.5,"h":18.5},
{"v":"p","f":"a","t":3,"m":14.5,"l":10.8,"h":18},
{"v":"p","f":"a","t":4,"m":14,"l":10.2,"h":17.8},
{"v":"p","f":"a","t":5,"m":13.9,"l":10,"h":17.8},
{"v":"p","f":"a","t":5.4,"m":13.2,"l":9,"h":17.5},
{"v":"p","f":"a","t":5.6,"m":12.9,"l":8.3,"h":17.8},
{"v":"p","f":"a","t":5.8,"m":13.5,"l":9.5,"h":17.8},
{"v":"p","f":"a","t":6.5,"m":13.9,"l":10,"h":17.6},
{"v":"p","f":"a","t":6.6,"m":20,"l":14,"h":27},
{"v":"p","f":"a","t":6.75,"m":25.5,"l":19,"h":32},
{"v":"p","f":"a","t":6.9,"m":26.6,"l":19.8,"h":33},
{"v":"p","f":"a","t":7.2,"m":26,"l":19.6,"h":32.3},
{"v":"p","f":"a","t":7.6,"m":25.7,"l":19.5,"h":32},
{"v":"p","f":"a","t":8.45,"m":25.7,"l":19.5,"h":32},
{"v":"p","f":"a","t":8.6,"m":20,"l":14,"h":26},
{"v":"p","f":"a","t":8.75,"m":15.5,"l":11.5,"h":18.5},
{"v":"p","f":"a","t":9,"m":14.5,"l":10.8,"h":18},
{"v":"p","f":"a","t":10,"m":14,"l":10.2,"h":17.8},
{"v":"p","f":"a","t":11,"m":13.9,"l":10,"h":17.6},
{"v":"p","f":"a","t":11.4,"m":13.3,"l":9.3,"h":17.5},
{"v":"p","f":"a","t":11.6,"m":13.0,"l":8.8,"h":17.4},
{"v":"p","f":"a","t":11.8,"m":13.4,"l":9.5,"h":17.6},
{"v":"p","f":"a","t":12,"m":13.8,"l":9.8,"h":17.6},
{"v":"p","f":"b","t":0,"m":6.3,"l":3,"h":9.8},
{"v":"p","f":"b","t":0.5,"m":6.4,"l":3,"h":9.8},
{"v":"p","f":"b","t":0.6,"m":13,"l":8,"h":17},
{"v":"p","f":"b","t":0.75,"m":20,"l":15,"h":24.5},
{"v":"p","f":"b","t":0.9,"m":21.3,"l":16.5,"h":25.5},
{"v":"p","f":"b","t":1.2,"m":20.5,"l":16,"h":24.2},
{"v":"p","f":"b","t":1.6,"m":20.3,"l":16,"h":24},
{"v":"p","f":"b","t":2.45,"m":20.3,"l":16,"h":24},
{"v":"p","f":"b","t":2.6,"m":14,"l":10,"h":18},
{"v":"p","f":"b","t":2.75,"m":8,"l":4.5,"h":11},
{"v":"p","f":"b","t":3,"m":7.3,"l":3.8,"h":10.3},
{"v":"p","f":"b","t":4,"m":6.6,"l":3.3,"h":10},
{"v":"p","f":"b","t":5,"m":6.5,"l":3.2,"h":10},
{"v":"p","f":"b","t":5.3,"m":6,"l":2.5,"h":10},
{"v":"p","f":"b","t":5.5,"m":4.7,"l":1,"h":9.5},
{"v":"p","f":"b","t":5.7,"m":5.5,"l":2,"h":9.8},
{"v":"p","f":"b","t":6,"m":6.3,"l":3,"h":9.8},
{"v":"p","f":"b","t":6.5,"m":6.4,"l":3.1,"h":9.8},
{"v":"p","f":"b","t":6.6,"m":13,"l":8,"h":17},
{"v":"p","f":"b","t":6.75,"m":20,"l":15,"h":24.5},
{"v":"p","f":"b","t":6.9,"m":21.3,"l":16.5,"h":25.5},
{"v":"p","f":"b","t":7.2,"m":20.5,"l":16,"h":24.2},
{"v":"p","f":"b","t":7.6,"m":20.3,"l":16,"h":24},
{"v":"p","f":"b","t":8.45,"m":20.3,"l":16,"h":24},
{"v":"p","f":"b","t":8.6,"m":14,"l":10,"h":18},
{"v":"p","f":"b","t":8.75,"m":8,"l":4.5,"h":11},
{"v":"p","f":"b","t":9,"m":7.3,"l":3.8,"h":10.3},
{"v":"p","f":"b","t":10,"m":6.6,"l":3.3,"h":10},
{"v":"p","f":"b","t":11,"m":6.5,"l":3.2,"h":10},
{"v":"p","f":"b","t":11.4,"m":6.1,"l":2.8,"h":9.9},
{"v":"p","f":"b","t":11.6,"m":6.0,"l":2.6,"h":9.8},
{"v":"p","f":"b","t":12,"m":6.3,"l":3,"h":9.8},
{"v":"p","f":"c","t":0,"m":3.0,"l":0.4,"h":5.4},
{"v":"p","f":"c","t":0.5,"m":3.1,"l":0.4,"h":5.4},
{"v":"p","f":"c","t":0.6,"m":10,"l":7,"h":13},
{"v":"p","f":"c","t":0.75,"m":17.5,"l":14.5,"h":20.5},
{"v":"p","f":"c","t":0.9,"m":19.1,"l":15.8,"h":21.5},
{"v":"p","f":"c","t":1.2,"m":18.3,"l":15.3,"h":20.5},
{"v":"p","f":"c","t":1.6,"m":18.1,"l":15.1,"h":20.4},
{"v":"p","f":"c","t":2.45,"m":18.1,"l":15.1,"h":20.4},
{"v":"p","f":"c","t":2.6,"m":12,"l":9,"h":15},
{"v":"p","f":"c","t":2.75,"m":5,"l":2,"h":7},
{"v":"p","f":"c","t":3,"m":4,"l":1.2,"h":6},
{"v":"p","f":"c","t":4,"m":3.3,"l":0.6,"h":5.5},
{"v":"p","f":"c","t":5,"m":3.2,"l":0.5,"h":5.5},
{"v":"p","f":"c","t":5.5,"m":2.9,"l":0.2,"h":5.3},
{"v":"p","f":"c","t":6,"m":3.1,"l":0.4,"h":5.4},
{"v":"p","f":"c","t":6.5,"m":3.1,"l":0.4,"h":5.4},
{"v":"p","f":"c","t":6.6,"m":10,"l":7,"h":13},
{"v":"p","f":"c","t":6.75,"m":17.5,"l":14.5,"h":20.5},
{"v":"p","f":"c","t":6.9,"m":19.1,"l":15.8,"h":21.5},
{"v":"p","f":"c","t":7.2,"m":18.3,"l":15.3,"h":20.5},
{"v":"p","f":"c","t":7.6,"m":18.1,"l":15.1,"h":20.4},
{"v":"p","f":"c","t":8.45,"m":18.1,"l":15.1,"h":20.4},
{"v":"p","f":"c","t":8.6,"m":12,"l":9,"h":15},
{"v":"p","f":"c","t":8.75,"m":5,"l":2,"h":7},
{"v":"p","f":"c","t":9,"m":4,"l":1.2,"h":6},
{"v":"p","f":"c","t":10,"m":3.3,"l":0.6,"h":5.5},
{"v":"p","f":"c","t":11,"m":3.1,"l":0.4,"h":5.4},
{"v":"p","f":"c","t":11.5,"m":2.9,"l":0.2,"h":5.3},
{"v":"p","f":"c","t":12,"m":3.0,"l":0.4,"h":5.4}
]},
"hconcat":[
{"spacing":-6,"vconcat":[
 {"spacing":16,"vconcat":[
 {"title":{"text":"Volume Fraction (mL/cm³)","orient":"left","anchor":"middle","offset":3,"dx":-14},"spacing":16,"vconcat":[
  {"data":{"name":"d"},"transform":[{"filter":"datum.v=='gf'||datum.v=='band'"}],
   "facet":{"column":{"field":"f","type":"nominal","sort":["a","b","c"],"title":null,"header":{"labelExpr":"datum.value=='a'?'FAMₑₓₚ < 20%':datum.value=='b'?'FAMₑₓₚ 20-40%':'FAMₑₓₚ ≥40%'","labelFontSize":11,"labelPadding":3,"labelColor":"black"}}},
   "spacing":7,
   "spec":{"width":157,"height":106,"layer":[
    {"transform":[{"filter":"datum.v=='band'"}],"mark":{"type":"rect","color":"#e0e0e0"},"encoding":{"x":{"field":"s","type":"quantitative","scale":{"domain":[-0.6,12.6],"nice":false,"zero":false},"axis":null},"x2":{"field":"e"}}},
    {"transform":[{"filter":"isValid(datum.r)"}],"mark":{"type":"area","opacity":0.3},"encoding":{"x":{"field":"t","type":"quantitative","scale":{"domain":[-0.6,12.6],"nice":false,"zero":false},"axis":null},"y":{"field":"l","type":"quantitative","scale":{"domain":[-0.007,1.04],"nice":false,"zero":false},"axis":{"values":[0.25,0.5,0.75,1],"tickCount":10,"format":".2f","title":null,"labelOverlap":false}},"y2":{"field":"h"},"color":{"field":"r","type":"nominal","scale":{"domain":["N","M","D"],"range":["#e41a1c","#377eb8","#4daf4a"]},"legend":null}}},
    {"transform":[{"filter":"isValid(datum.r)"}],"mark":{"type":"line","strokeWidth":1.1},"encoding":{"x":{"field":"t","type":"quantitative","scale":{"domain":[-0.6,12.6],"nice":false,"zero":false},"axis":null},"y":{"field":"m","type":"quantitative","scale":{"domain":[-0.007,1.04],"nice":false,"zero":false},"axis":{"values":[0.25,0.5,0.75,1],"tickCount":10,"format":".2f","title":null,"labelOverlap":false}},"color":{"field":"r","type":"nominal","scale":{"domain":["N","M","D"],"range":["#e41a1c","#377eb8","#4daf4a"]},"legend":null},"strokeDash":{"field":"r","type":"nominal","scale":{"domain":["N","M","D"],"range":[[1,0],[3,2.5],[6,3.5]]},"legend":null}}},
    {"transform":[{"filter":"isValid(datum.lab)"}],"mark":{"type":"text","align":"left","baseline":"middle","fontSize":11,"color":"black"},"encoding":{"x":{"datum":0,"type":"quantitative"},"y":{"datum":0.995,"type":"quantitative"},"text":{"field":"lab"}}}
   ]}},
  {"data":{"name":"d"},"transform":[{"filter":"datum.v=='bf'||datum.v=='band'"}],
   "facet":{"column":{"field":"f","type":"nominal","sort":["a","b","c"],"title":null,"header":{"labels":false}}},
   "spacing":7,
   "spec":{"width":157,"height":106,"layer":[
    {"transform":[{"filter":"datum.v=='band'"}],"mark":{"type":"rect","color":"#e0e0e0"},"encoding":{"x":{"field":"s","type":"quantitative","scale":{"domain":[-0.6,12.6],"nice":false,"zero":false},"axis":null},"x2":{"field":"e"}}},
    {"transform":[{"filter":"isValid(datum.r)"}],"mark":{"type":"area","opacity":0.3},"encoding":{"x":{"field":"t","type":"quantitative","scale":{"domain":[-0.6,12.6],"nice":false,"zero":false},"axis":null},"y":{"field":"l","type":"quantitative","scale":{"domain":[0.027,0.376],"nice":false,"zero":false},"axis":{"values":[0.1,0.2,0.3],"tickCount":10,"format":".1f","title":null,"labelOverlap":false}},"y2":{"field":"h"},"color":{"field":"r","type":"nominal","scale":{"domain":["N","M","D"],"range":["#e41a1c","#377eb8","#4daf4a"]},"legend":null}}},
    {"transform":[{"filter":"isValid(datum.r)"}],"mark":{"type":"line","strokeWidth":1.1},"encoding":{"x":{"field":"t","type":"quantitative","scale":{"domain":[-0.6,12.6],"nice":false,"zero":false},"axis":null},"y":{"field":"m","type":"quantitative","scale":{"domain":[0.027,0.376],"nice":false,"zero":false},"axis":{"values":[0.1,0.2,0.3],"tickCount":10,"format":".1f","title":null,"labelOverlap":false}},"color":{"field":"r","type":"nominal","scale":{"domain":["N","M","D"],"range":["#e41a1c","#377eb8","#4daf4a"]},"legend":null},"strokeDash":{"field":"r","type":"nominal","scale":{"domain":["N","M","D"],"range":[[1,0],[3,2.5],[6,3.5]]},"legend":null}}},
    {"transform":[{"filter":"isValid(datum.lab)"}],"mark":{"type":"text","align":"left","baseline":"middle","fontSize":11,"color":"black"},"encoding":{"x":{"datum":0,"type":"quantitative"},"y":{"datum":0.35,"type":"quantitative"},"text":{"field":"lab"}}}
   ]}}
 ]},
 {"title":{"text":"Normalized Volume (mL/g)","orient":"left","anchor":"middle","offset":3,"dx":-5},"spacing":15,"vconcat":[
  {"data":{"name":"d"},"transform":[{"filter":"datum.v=='gn'||datum.v=='band'"}],
   "facet":{"column":{"field":"f","type":"nominal","sort":["a","b","c"],"title":null,"header":{"labels":false}}},
   "spacing":7,
   "spec":{"width":157,"height":121,"layer":[
    {"transform":[{"filter":"datum.v=='band'"}],"mark":{"type":"rect","color":"#e0e0e0"},"encoding":{"x":{"field":"s","type":"quantitative","scale":{"domain":[-0.6,12.6],"nice":false,"zero":false},"axis":null},"x2":{"field":"e"}}},
    {"transform":[{"filter":"isValid(datum.r)"}],"mark":{"type":"area","opacity":0.3},"encoding":{"x":{"field":"t","type":"quantitative","scale":{"domain":[-0.6,12.6],"nice":false,"zero":false},"axis":null},"y":{"field":"l","type":"quantitative","scale":{"domain":[-0.32,7.38],"nice":false,"zero":false},"axis":{"values":[0,2,4,6],"tickCount":10,"title":null,"labelOverlap":false}},"y2":{"field":"h"},"color":{"field":"r","type":"nominal","scale":{"domain":["N","M","D"],"range":["#e41a1c","#377eb8","#4daf4a"]},"legend":null}}},
    {"transform":[{"filter":"isValid(datum.r)"}],"mark":{"type":"line","strokeWidth":1.1},"encoding":{"x":{"field":"t","type":"quantitative","scale":{"domain":[-0.6,12.6],"nice":false,"zero":false},"axis":null},"y":{"field":"m","type":"quantitative","scale":{"domain":[-0.32,7.38],"nice":false,"zero":false},"axis":{"values":[0,2,4,6],"tickCount":10,"title":null,"labelOverlap":false}},"color":{"field":"r","type":"nominal","scale":{"domain":["N","M","D"],"range":["#e41a1c","#377eb8","#4daf4a"]},"legend":null},"strokeDash":{"field":"r","type":"nominal","scale":{"domain":["N","M","D"],"range":[[1,0],[3,2.5],[6,3.5]]},"legend":null}}},
    {"transform":[{"filter":"isValid(datum.lab)"}],"mark":{"type":"text","align":"left","baseline":"middle","fontSize":11,"color":"black"},"encoding":{"x":{"datum":0,"type":"quantitative"},"y":{"datum":7.0,"type":"quantitative"},"text":{"field":"lab"}}}
   ]}},
  {"data":{"name":"d"},"transform":[{"filter":"datum.v=='bn'||datum.v=='band'"}],
   "facet":{"column":{"field":"f","type":"nominal","sort":["a","b","c"],"title":null,"header":{"labels":false}}},
   "spacing":7,
   "spec":{"width":157,"height":121,"layer":[
    {"transform":[{"filter":"datum.v=='band'"}],"mark":{"type":"rect","color":"#e0e0e0"},"encoding":{"x":{"field":"s","type":"quantitative","scale":{"domain":[-0.6,12.6],"nice":false,"zero":false},"axis":null},"x2":{"field":"e"}}},
    {"transform":[{"filter":"isValid(datum.r)"}],"mark":{"type":"area","opacity":0.3},"encoding":{"x":{"field":"t","type":"quantitative","scale":{"domain":[-0.6,12.6],"nice":false,"zero":false},"axis":null},"y":{"field":"l","type":"quantitative","scale":{"domain":[0.152,0.622],"nice":false,"zero":false},"axis":{"values":[0.2,0.3,0.4,0.5,0.6],"tickCount":10,"format":".1f","title":null,"labelOverlap":false}},"y2":{"field":"h"},"color":{"field":"r","type":"nominal","scale":{"domain":["N","M","D"],"range":["#e41a1c","#377eb8","#4daf4a"]},"legend":null}}},
    {"transform":[{"filter":"isValid(datum.r)"}],"mark":{"type":"line","strokeWidth":1.1},"encoding":{"x":{"field":"t","type":"quantitative","scale":{"domain":[-0.6,12.6],"nice":false,"zero":false},"axis":null},"y":{"field":"m","type":"quantitative","scale":{"domain":[0.152,0.622],"nice":false,"zero":false},"axis":{"values":[0.2,0.3,0.4,0.5,0.6],"tickCount":10,"format":".1f","title":null,"labelOverlap":false}},"color":{"field":"r","type":"nominal","scale":{"domain":["N","M","D"],"range":["#e41a1c","#377eb8","#4daf4a"]},"legend":null},"strokeDash":{"field":"r","type":"nominal","scale":{"domain":["N","M","D"],"range":[[1,0],[3,2.5],[6,3.5]]},"legend":null}}},
    {"transform":[{"filter":"isValid(datum.lab)"}],"mark":{"type":"text","align":"left","baseline":"middle","fontSize":11,"color":"black"},"encoding":{"x":{"datum":0,"type":"quantitative"},"y":{"datum":0.595,"type":"quantitative"},"text":{"field":"lab"}}}
   ]}}
 ]}
 ]},
 {"title":{"text":"Airway Pressure (cmH₂O)","orient":"left","anchor":"middle","offset":3,"dx":21},
  "data":{"name":"d"},"transform":[{"filter":"datum.v=='p'||datum.v=='band'"}],
  "facet":{"column":{"field":"f","type":"nominal","sort":["a","b","c"],"title":"Time (s)","header":{"labels":false,"titleOrient":"bottom","titleFontSize":13,"titleFontWeight":"normal","titleColor":"black","titlePadding":2,"titleBaseline":"middle"}}},
  "spacing":7,
  "spec":{"width":157,"height":113,"layer":[
    {"transform":[{"filter":"datum.v=='band'"}],"mark":{"type":"rect","color":"#e6e6e6"},"encoding":{"x":{"field":"s","type":"quantitative","scale":{"domain":[-0.6,12.6],"nice":false,"zero":false},"axis":{"values":[0,3,6,9,12],"tickCount":10,"title":null}},"x2":{"field":"e"}}},
    {"transform":[{"filter":"datum.v=='p'"}],"mark":{"type":"area","color":"#8a8a8a","opacity":1},"encoding":{"x":{"field":"t","type":"quantitative","scale":{"domain":[-0.6,12.6],"nice":false,"zero":false},"axis":{"values":[0,3,6,9,12],"tickCount":10,"title":null}},"y":{"field":"l","type":"quantitative","scale":{"domain":[-1.1,36.7],"nice":false,"zero":false},"axis":{"values":[0,10,20,30],"tickCount":10,"title":null,"labelOverlap":false}},"y2":{"field":"h"}}},
    {"transform":[{"filter":"datum.v=='p'"}],"mark":{"type":"line","color":"black","strokeWidth":1.3},"encoding":{"x":{"field":"t","type":"quantitative","scale":{"domain":[-0.6,12.6],"nice":false,"zero":false},"axis":{"values":[0,3,6,9,12],"tickCount":10,"title":null}},"y":{"field":"m","type":"quantitative","scale":{"domain":[-1.1,36.7],"nice":false,"zero":false},"axis":{"values":[0,10,20,30],"tickCount":10,"title":null,"labelOverlap":false}}}}
  ]}}
]},
{"title":{"text":"Region","anchor":"start","fontSize":13,"offset":8},
 "width":110,"height":82,
 "data":{"values":[{"r":"N","name":"Non-Dependent"},{"r":"M","name":"Middle"},{"r":"D","name":"Dependent"}]},
 "layer":[
  {"mark":{"type":"rect","opacity":0.3},"encoding":{"y":{"field":"r","type":"nominal","sort":["N","M","D"],"axis":null,"scale":{"paddingInner":0.1,"paddingOuter":0}},"x":{"datum":0,"type":"quantitative","scale":{"domain":[0,110]},"axis":null},"x2":{"datum":25},"color":{"field":"r","type":"nominal","scale":{"domain":["N","M","D"],"range":["#e41a1c","#377eb8","#4daf4a"]},"legend":null}}},
  {"mark":{"type":"rule","strokeWidth":1.2},"encoding":{"y":{"field":"r","type":"nominal","sort":["N","M","D"],"axis":null},"x":{"datum":2,"type":"quantitative"},"x2":{"datum":23},"color":{"field":"r","type":"nominal","scale":{"domain":["N","M","D"],"range":["#e41a1c","#377eb8","#4daf4a"]},"legend":null},"strokeDash":{"field":"r","type":"nominal","scale":{"domain":["N","M","D"],"range":[[1,0],[3,2.5],[6,3.5]]},"legend":null}}},
  {"mark":{"type":"text","align":"left","baseline":"middle","fontSize":11,"color":"black"},"encoding":{"y":{"field":"r","type":"nominal","sort":["N","M","D"],"axis":null},"x":{"datum":33,"type":"quantitative"},"text":{"field":"name"}}}
 ]}
],
"spacing":18,
"center":true
}
